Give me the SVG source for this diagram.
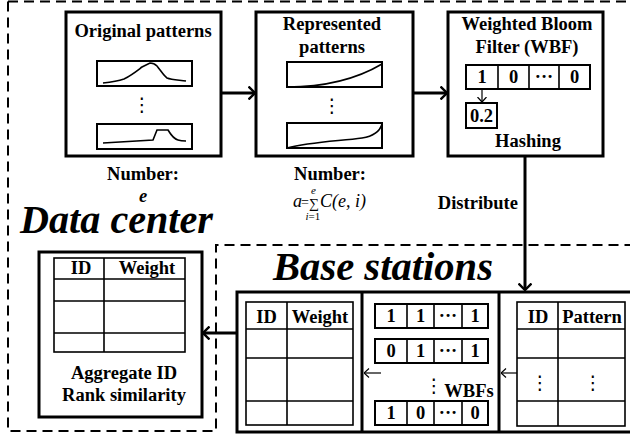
<svg xmlns="http://www.w3.org/2000/svg" width="630" height="435" viewBox="0 0 630 435">
<style>
.box{fill:none;stroke:#000;stroke-width:3}
.inner{fill:#fff;stroke:#000;stroke-width:2}
.grid{fill:none;stroke:#000;stroke-width:1.6}
.curve{fill:none;stroke:#000;stroke-width:1.6}
.dash{fill:none;stroke:#000;stroke-width:2;stroke-dasharray:10 6}
.conn{fill:none;stroke:#000;stroke-width:3}
.thin{fill:none;stroke:#000;stroke-width:1.2}
.t{font-family:"Liberation Serif","Times New Roman",serif;font-weight:bold;font-size:18.5px;text-anchor:middle;fill:#000}
.big{font-family:"Liberation Serif","Times New Roman",serif;font-weight:bold;font-style:italic;font-size:39px;fill:#000}
.f{font-family:"Liberation Serif","Times New Roman",serif;font-style:italic;font-size:18px;fill:#000}
.vd{font-family:"DejaVu Sans",sans-serif;font-size:19px;text-anchor:middle;fill:#000}
</style>
<defs>
<marker id="ah" viewBox="0 0 8 14" refX="7" refY="7" markerWidth="8" markerHeight="14" markerUnits="userSpaceOnUse" orient="auto">
<path d="M0.5,0.5 L7,7 L0.5,13.5" fill="none" stroke="#000" stroke-width="2.4"/>
</marker>
<marker id="ahs" viewBox="0 0 6 10" refX="5.5" refY="5" markerWidth="6" markerHeight="10" markerUnits="userSpaceOnUse" orient="auto">
<path d="M0.5,0.5 L5.5,5 L0.5,9.5" fill="none" stroke="#000" stroke-width="1.2"/>
</marker>
</defs>

<g id="regions">
<path class="dash" d="M8,1.5 H630 M8,1.5 V431 H216 V245 H630"/>
<text class="big" x="20" y="233" textLength="193" lengthAdjust="spacingAndGlyphs">Data center</text>
<text class="big" x="273" y="280" textLength="220" lengthAdjust="spacingAndGlyphs">Base stations</text>
</g>

<g id="original-patterns">
<rect class="box" x="66" y="12" width="155" height="144"/>
<text class="t" x="143" y="37">Original patterns</text>
<rect class="inner" x="97" y="61" width="95" height="25"/>
<path class="curve" d="M103,83 C112,82 118,81 124,79 C132,75 138,70 142,67 C146,65 148,64 150,63 C153,63 155,64 157,66 C161,71 164,76 167,78 C172,80 180,80 186,81"/>
<rect class="inner" x="97" y="124" width="95" height="25"/>
<path class="curve" d="M103,143 L153,140 L157,130 L168,130 C171,135 174,139 178,140 C181,141 184,141 186,141"/>
<text class="vd" x="142" y="111">⋮</text>
<text class="t" x="143" y="180">Number:</text>
<text class="t" x="143" y="202" font-style="italic" font-size="17">e</text>
</g>

<g id="represented-patterns">
<rect class="box" x="256" y="12" width="157" height="144"/>
<text class="t" x="332" y="30">Represented</text>
<text class="t" x="332" y="53">patterns</text>
<rect class="inner" x="287" y="62" width="95" height="25"/>
<path class="curve" d="M287,87 C320,87 355,80 382,64"/>
<rect class="inner" x="287" y="123" width="95" height="25"/>
<path class="curve" d="M287,148 C310,142 340,141 362,138 C375,136 380,131 382,124"/>
<text class="vd" x="332" y="112">⋮</text>
<text class="t" x="330" y="180">Number:</text>
<text class="f" x="293" y="207">a<tspan x="301" font-style="normal" font-size="14">=</tspan><tspan x="309" y="208" font-style="normal" font-size="14">∑</tspan><tspan x="311" y="194" font-size="11">e</tspan><tspan x="305.5" y="220" font-size="11">i</tspan><tspan font-style="normal" font-size="11">=1</tspan><tspan x="320" y="207">C(e, i)</tspan></text>
</g>

<g id="wbf">
<rect class="box" x="448" y="12" width="155" height="144"/>
<text class="t" x="527" y="30">Weighted Bloom</text>
<text class="t" x="527" y="53">Filter (WBF)</text>
<rect class="inner" x="466" y="65" width="124" height="24"/>
<path class="grid" d="M498,65 V89 M529,65 V89 M559,65 V89"/>
<text class="t" x="482" y="83">1</text>
<text class="t" x="513.5" y="83">0</text>
<text class="t" x="544" y="83" font-size="14">···</text>
<text class="t" x="574.5" y="83">0</text>
<path class="thin" d="M482,89 V102" marker-end="url(#ahs)"/>
<rect class="inner" x="466" y="103" width="31" height="25"/>
<text class="t" x="481.5" y="122">0.2</text>
<text class="t" x="528" y="147">Hashing</text>
</g>

<g id="data-center-node">
<rect class="box" x="39" y="252" width="163" height="165"/>
<rect class="grid" x="54" y="258" width="131" height="94"/>
<path class="grid" d="M104,258 V352 M54,279 H185 M54,301 H185 M54,333 H185"/>
<text class="t" x="81" y="274">ID</text>
<text class="t" x="147" y="274">Weight</text>
<text class="t" x="124" y="379">Aggregate ID</text>
<text class="t" x="124" y="401">Rank similarity</text>
</g>

<g id="base-stations-node">
<rect class="box" x="237" y="292" width="400" height="140"/>
<path class="box" d="M362,292 V432 M499,292 V432"/>
<rect class="grid" x="246" y="302" width="107" height="123"/>
<path class="grid" d="M287,302 V425 M246,329 H353 M246,358 H353 M246,401 H353"/>
<text class="t" x="266.5" y="323">ID</text>
<text class="t" x="320" y="323">Weight</text>

<rect class="inner" x="375" y="304" width="113" height="24"/>
<path class="grid" d="M407,304 V328 M434,304 V328 M462,304 V328"/>
<text class="t" x="391" y="322">1</text>
<text class="t" x="420.5" y="322">1</text>
<text class="t" x="448" y="322" font-size="14">···</text>
<text class="t" x="475" y="322">1</text>
<rect class="inner" x="375" y="339" width="113" height="24"/>
<path class="grid" d="M407,339 V363 M434,339 V363 M462,339 V363"/>
<text class="t" x="391" y="357">0</text>
<text class="t" x="420.5" y="357">1</text>
<text class="t" x="448" y="357" font-size="14">···</text>
<text class="t" x="475" y="357">1</text>
<rect class="inner" x="375" y="401" width="113" height="24"/>
<path class="grid" d="M407,401 V425 M434,401 V425 M462,401 V425"/>
<text class="t" x="391" y="419">1</text>
<text class="t" x="420.5" y="419">0</text>
<text class="t" x="448" y="419" font-size="14">···</text>
<text class="t" x="475" y="419">0</text>
<text class="vd" x="434" y="392">⋮</text>
<text class="t" x="469" y="397">WBFs</text>
<path class="thin" d="M381,373 H364" marker-end="url(#ahs)"/>

<rect class="grid" x="517" y="302" width="108" height="124"/>
<path class="grid" d="M558,302 V426 M517,329 H625 M517,358 H625 M517,401 H625"/>
<text class="t" x="538" y="323">ID</text>
<text class="t" x="592" y="323">Pattern</text>
<text class="vd" x="540" y="389">⋮</text>
<text class="vd" x="593" y="389">⋮</text>
<path class="thin" d="M517,373 H501" marker-end="url(#ahs)"/>
</g>

<g id="connectors">
<path class="conn" d="M221,93 H255" marker-end="url(#ah)"/>
<path class="conn" d="M413,93 H447" marker-end="url(#ah)"/>
<path class="conn" d="M525,156 V290" marker-end="url(#ah)"/>
<text class="t" x="518" y="209" style="text-anchor:end">Distribute</text>
<path class="conn" d="M237,333 H203" marker-end="url(#ah)"/>
</g>
</svg>
